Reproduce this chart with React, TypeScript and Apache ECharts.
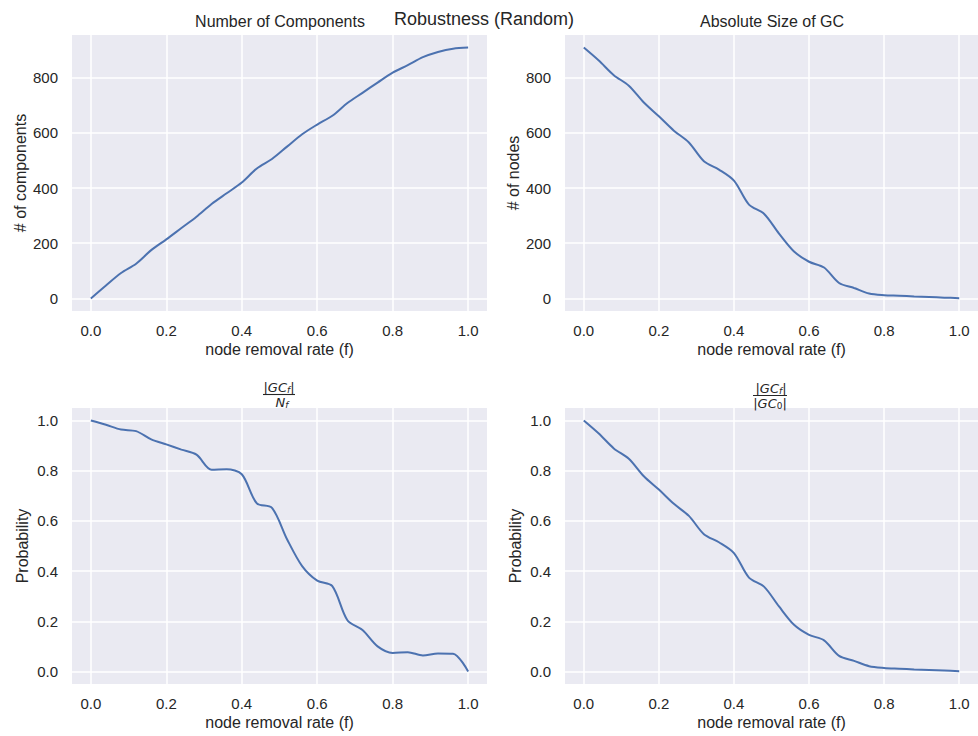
import React, { useEffect, useRef } from "react";
import * as echarts from "echarts";

const removalRate = [0, 0.04, 0.08, 0.12, 0.16, 0.2, 0.24, 0.28, 0.32, 0.36, 0.4, 0.44, 0.48, 0.52, 0.56, 0.6, 0.64, 0.68, 0.72, 0.76, 0.8, 0.84, 0.88, 0.92, 0.96, 1.0];

const numComponents = [0, 47, 92, 126, 175, 214, 255, 296, 342, 381, 420, 471, 505, 550, 595, 630, 662, 708, 745, 782, 818, 845, 874, 893, 905, 909];
const gcSize = [909, 862, 809, 771, 710, 660, 608, 565, 497, 467, 427, 340, 307, 235, 170, 133, 112, 56, 38, 18, 12, 10, 7, 5, 3, 1];
const gcOverN = [1.0, 0.983, 0.964, 0.958, 0.925, 0.905, 0.884, 0.864, 0.804, 0.806, 0.786, 0.67, 0.652, 0.527, 0.42, 0.362, 0.34, 0.204, 0.165, 0.1, 0.074, 0.077, 0.064, 0.072, 0.071, 0];
const gcOverGc0 = [1.0, 0.948, 0.889, 0.848, 0.778, 0.725, 0.668, 0.62, 0.547, 0.515, 0.472, 0.374, 0.338, 0.259, 0.186, 0.146, 0.124, 0.062, 0.042, 0.021, 0.014, 0.011, 0.008, 0.006, 0.004, 0.001];

const xTicks = [0, 0.2, 0.4, 0.6, 0.8, 1.0];
const countTicks = [0, 200, 400, 600, 800];
const probTicks = [0, 0.2, 0.4, 0.6, 0.8, 1.0];

const suptitle = "Robustness (Random)";
const topTitles = ["Number of Components", "Absolute Size of GC"];
const xName = "node removal rate (f)";
const yNames = ["# of components", "# of nodes", "Probability", "Probability"];

const TEXT = "#262626";
const FONT = "Liberation Sans, Arial, sans-serif";
const LINE = "#4C72B0";
const BG = "#EAEAF2";

export default function App() {
  const ref = useRef<HTMLDivElement>(null);
  useEffect(() => {
    document.body.style.margin = "0";
    const chart = echarts.init(ref.current!, null, { renderer: "svg" });

    const grids = [
      { left: 72, top: 35, width: 415, height: 276 },
      { left: 565, top: 35, width: 415, height: 276 },
      { left: 72, top: 408, width: 415, height: 276 },
      { left: 565, top: 408, width: 415, height: 276 },
    ].map((g) => ({ ...g, show: true, backgroundColor: BG, borderWidth: 0, containLabel: false }));

    const seriesData = [numComponents, gcSize, gcOverN, gcOverGc0];

    const xAxes = grids.map((_, i) => ({
      type: "value",
      gridIndex: i,
      min: -0.05,
      max: 1.05,
      name: xName,
      nameLocation: "middle",
      nameGap: 30,
      nameTextStyle: { color: TEXT, fontSize: 16, fontFamily: FONT },
      axisLine: { show: false },
      axisTick: { show: false, customValues: xTicks },
      axisLabel: {
        customValues: xTicks,
        formatter: (v: number) => v.toFixed(1),
        color: TEXT,
        fontSize: 15,
        fontFamily: FONT,
        margin: 12,
      },
      splitLine: { show: true, lineStyle: { color: "#ffffff", width: 1.5 } },
    }));

    const yAxes = grids.map((_, i) => {
      const isCount = i < 2;
      const ticks = isCount ? countTicks : probTicks;
      return {
        type: "value",
        gridIndex: i,
        min: isCount ? -45.45 : -0.05,
        max: isCount ? 954.45 : 1.05,
        name: yNames[i],
        nameLocation: "middle",
        nameGap: isCount ? 44 : 42,
        nameTextStyle: { color: TEXT, fontSize: 16, fontFamily: FONT },
        axisLine: { show: false },
        axisTick: { show: false, customValues: ticks },
        axisLabel: {
          customValues: ticks,
          formatter: (v: number) => (isCount ? String(Math.round(v)) : v.toFixed(1)),
          color: TEXT,
          fontSize: 15,
          fontFamily: FONT,
          margin: 14,
        },
        splitLine: { show: true, lineStyle: { color: "#ffffff", width: 1.5 } },
      };
    });

    const series = seriesData.map((vals, i) => ({
      type: "line",
      xAxisIndex: i,
      yAxisIndex: i,
      data: removalRate.map((f, j) => [f, vals[j]]),
      showSymbol: false,
      smooth: 0.3,
      lineStyle: { color: LINE, width: 2 },
      itemStyle: { color: LINE },
    }));

    const mathRich = {
      m: { fontSize: 13, fontStyle: "italic", fontFamily: "DejaVu Sans", color: TEXT },
      s: { fontSize: 9, fontStyle: "italic", fontFamily: "DejaVu Sans", color: TEXT, padding: [6, 0, 0, 0] },
      r: { fontSize: 9, fontFamily: "DejaVu Sans", color: TEXT, padding: [6, 0, 0, 0] },
    };

    const graphic: any[] = [
      {
        type: "text",
        x: 484,
        y: 19,
        style: { text: suptitle, align: "center", verticalAlign: "middle", fontSize: 18, fontFamily: FONT, fill: TEXT },
      },
      {
        type: "text",
        x: 280,
        y: 21,
        style: { text: topTitles[0], align: "center", verticalAlign: "middle", fontSize: 16, fontFamily: FONT, fill: TEXT },
      },
      {
        type: "text",
        x: 772,
        y: 21,
        style: { text: topTitles[1], align: "center", verticalAlign: "middle", fontSize: 16, fontFamily: FONT, fill: TEXT },
      },
      {
        type: "text",
        x: 279,
        y: 387,
        style: { text: "{m||GC}{s|f}{m||}", rich: mathRich, align: "center", verticalAlign: "middle", fill: TEXT },
      },
      { type: "line", shape: { x1: 263, y1: 394.5, x2: 295, y2: 394.5 }, style: { stroke: TEXT, lineWidth: 1.1 } },
      {
        type: "text",
        x: 282,
        y: 402,
        style: { text: "{m|N}{s|f}", rich: mathRich, align: "center", verticalAlign: "middle", fill: TEXT },
      },
      {
        type: "text",
        x: 771,
        y: 388,
        style: { text: "{m||GC}{s|f}{m||}", rich: mathRich, align: "center", verticalAlign: "middle", fill: TEXT },
      },
      { type: "line", shape: { x1: 753, y1: 395.5, x2: 787, y2: 395.5 }, style: { stroke: TEXT, lineWidth: 1.1 } },
      {
        type: "text",
        x: 770,
        y: 403,
        style: { text: "{m||GC}{r|0}{m||}", rich: mathRich, align: "center", verticalAlign: "middle", fill: TEXT },
      },
    ];

    chart.setOption({
      animation: false,
      backgroundColor: "#ffffff",
      grid: grids,
      xAxis: xAxes,
      yAxis: yAxes,
      series,
      graphic,
    } as any);

    return () => chart.dispose();
  }, []);

  return <div ref={ref} style={{ width: 978, height: 736 }} />;
}
